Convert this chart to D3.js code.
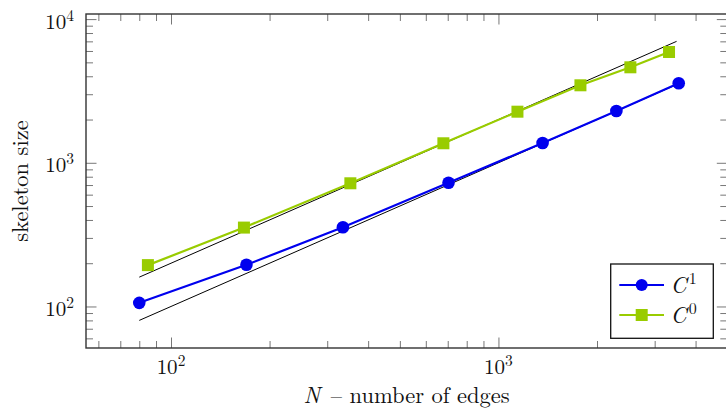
<!DOCTYPE html>
<html>
<head>
<meta charset="utf-8">
<script src="https://cdn.jsdelivr.net/npm/d3@7"></script>
<style>
  html, body { margin: 0; padding: 0; background: #fff; }
</style>
</head>
<body>
<svg id="chart" width="726" height="410"></svg>
<script>
// ---- data ----
const c1N = [80, 170, 335, 704, 1364, 2292, 3553];
const c1S = [106, 195, 356, 727, 1373, 2294, 3575];
const c0N = [85, 167, 353, 679, 1143, 1780, 2529, 3319];
const c0S = [194, 354, 720, 1367, 2268, 3462, 4619, 5904];
const refLowN = [80, 3553];
const refLowS = [80, 3553];
const refHighN = [80, 3500];
const refHighS = [160, 7000];
const xMajor = [100, 1000];
const xMinor = [60, 70, 80, 90, 200, 300, 400, 500, 600, 700, 800, 900, 2000, 3000, 4000];
const yMajor = [100, 1000, 10000];
const yMinor = [60, 70, 80, 90, 200, 300, 400, 500, 600, 700, 800, 900,
                2000, 3000, 4000, 5000, 6000, 7000, 8000, 9000];
const xExp = ["2", "3"];
const yExp = ["2", "3", "4"];
const legendLabels = [{base: "C", sup: "1"}, {base: "C", sup: "0"}];
const xLabel = "N";
const xLabelRest = " \u2013 number of edges";
const yLabel = "skeleton size";

// ---- layout ----
const FONT = '"Latin Modern Roman", "Liberation Serif", serif';
const L = 86, R = 727.3, T = 14, B = 348;
const svg = d3.select("#chart");
const x = d3.scaleLog().domain([55, 5000]).range([L, R]);
const y = d3.scaleLog().domain([51.4, 10852]).range([B, T]);

const blue = "#0000ee", green = "#99cc00";
const tickCol = "#777";

function styleAxis(g) {
  g.select(".domain").remove();
  g.selectAll(".tick line").attr("stroke", tickCol).attr("stroke-width", 1);
  g.selectAll(".tick text").remove();
}
// minor ticks
svg.append("g").attr("transform", `translate(0,${B})`)
  .call(d3.axisBottom(x).tickValues(xMinor).tickSize(-7).tickFormat(() => "")).call(styleAxis);
svg.append("g").attr("transform", `translate(0,${T})`)
  .call(d3.axisTop(x).tickValues(xMinor).tickSize(-7).tickFormat(() => "")).call(styleAxis);
svg.append("g").attr("transform", `translate(${L},0)`)
  .call(d3.axisLeft(y).tickValues(yMinor).tickSize(-7).tickFormat(() => "")).call(styleAxis);
svg.append("g").attr("transform", `translate(${R},0)`)
  .call(d3.axisRight(y).tickValues(yMinor).tickSize(-7).tickFormat(() => "")).call(styleAxis);
// major ticks
svg.append("g").attr("transform", `translate(0,${B})`)
  .call(d3.axisBottom(x).tickValues(xMajor).tickSize(-10.5).tickFormat(() => "")).call(styleAxis);
svg.append("g").attr("transform", `translate(0,${T})`)
  .call(d3.axisTop(x).tickValues(xMajor).tickSize(-10.5).tickFormat(() => "")).call(styleAxis);
svg.append("g").attr("transform", `translate(${L},0)`)
  .call(d3.axisLeft(y).tickValues(yMajor).tickSize(-10.5).tickFormat(() => "")).call(styleAxis);
svg.append("g").attr("transform", `translate(${R},0)`)
  .call(d3.axisRight(y).tickValues(yMajor).tickSize(-10.5).tickFormat(() => "")).call(styleAxis);

// tick labels
xMajor.forEach((v, i) => {
  const t = svg.append("text").attr("x", x(v)).attr("y", B + 26).style("font-family", FONT)
    .attr("text-anchor", "middle").attr("font-size", 21).attr("fill", "#111");
  t.append("tspan").text("10");
  t.append("tspan").attr("dy", -8).attr("font-size", 15.5).text(xExp[i]);
});
yMajor.forEach((v, i) => {
  const t = svg.append("text").attr("x", 74).attr("y", y(v) + 9.5).style("font-family", FONT)
    .attr("text-anchor", "end").attr("font-size", 21).attr("fill", "#111");
  t.append("tspan").text("10");
  t.append("tspan").attr("dy", -8).attr("font-size", 15.5).text(yExp[i]);
});

// axis labels
const xl = svg.append("text").attr("x", (L + R) / 2).attr("y", 403).style("font-family", FONT)
  .attr("text-anchor", "middle").attr("font-size", 22.5).attr("fill", "#111");
xl.append("tspan").attr("font-style", "italic").text(xLabel);
xl.append("tspan").attr("dx", 3).text(xLabelRest);

svg.append("text").attr("transform", `translate(28,${(T + B) / 2}) rotate(-90)`)
  .style("font-family", FONT)
  .attr("text-anchor", "middle").attr("font-size", 22.5).attr("fill", "#111")
  .text(yLabel);

// clip
svg.append("clipPath").attr("id", "clip").append("rect")
  .attr("x", L).attr("y", T).attr("width", R - L).attr("height", B - T);
const plot = svg.append("g").attr("clip-path", "url(#clip)");

const line = d3.line().x(d => x(d[0])).y(d => y(d[1]));

// reference lines
plot.append("path").datum(d3.zip(refLowN, refLowS)).attr("d", line)
  .attr("fill", "none").attr("stroke", "#000").attr("stroke-width", 1);
plot.append("path").datum(d3.zip(refHighN, refHighS)).attr("d", line)
  .attr("fill", "none").attr("stroke", "#000").attr("stroke-width", 1);

// C1 series
const d1 = d3.zip(c1N, c1S);
plot.append("path").datum(d1).attr("d", line)
  .attr("fill", "none").attr("stroke", blue).attr("stroke-width", 2.2);
plot.selectAll(".c1").data(d1).enter().append("circle")
  .attr("cx", d => x(d[0])).attr("cy", d => y(d[1])).attr("r", 6.3)
  .attr("fill", blue);

// C0 series
const d0 = d3.zip(c0N, c0S);
plot.append("path").datum(d0).attr("d", line)
  .attr("fill", "none").attr("stroke", green).attr("stroke-width", 2.2);
plot.selectAll(".c0").data(d0).enter().append("rect")
  .attr("x", d => x(d[0]) - 6).attr("y", d => y(d[1]) - 6)
  .attr("width", 12).attr("height", 12).attr("fill", green);

// frame
svg.append("rect").attr("x", L).attr("y", T).attr("width", R - L).attr("height", B - T)
  .attr("fill", "none").attr("stroke", "#333").attr("stroke-width", 1.4);

// legend
const lg = svg.append("g");
lg.append("rect").attr("x", 610.7).attr("y", 264).attr("width", 102.6).attr("height", 74.3)
  .attr("fill", "#fff").attr("stroke", "#111").attr("stroke-width", 1.3);
const rows = [285, 315];
const cols = [blue, green];
rows.forEach((ry, i) => {
  lg.append("line").attr("x1", 619.3).attr("x2", 664).attr("y1", ry).attr("y2", ry)
    .attr("stroke", cols[i]).attr("stroke-width", 2.2);
  if (i === 0) {
    lg.append("circle").attr("cx", 641.7).attr("cy", ry).attr("r", 6).attr("fill", blue);
  } else {
    lg.append("rect").attr("x", 635.7).attr("y", ry - 6).attr("width", 12).attr("height", 12).attr("fill", green);
  }
  const t = lg.append("text").attr("x", 670.5).attr("y", ry + 7.5).style("font-family", FONT)
    .attr("font-size", 22.5).attr("fill", "#111");
  t.append("tspan").attr("font-style", "italic").text(legendLabels[i].base);
  t.append("tspan").attr("dx", 2).attr("dy", -9).attr("font-size", 16).text(legendLabels[i].sup);
});
</script>
</body>
</html>
